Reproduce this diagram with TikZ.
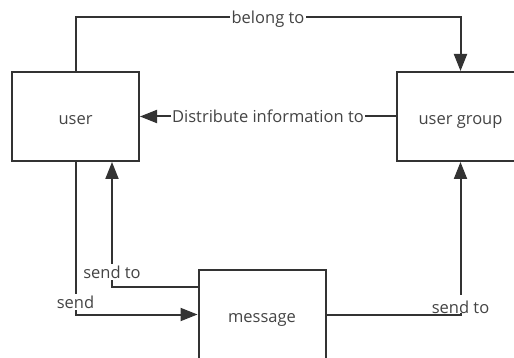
\documentclass[tikz,border=0pt]{standalone}
\usepackage{fontspec}
\setmainfont{Open Sans}
\usetikzlibrary{arrows.meta,calc}
\definecolor{lc}{HTML}{333333}
\definecolor{tc}{HTML}{444444}
\begin{document}
\begin{tikzpicture}[x=1pt,y=-1pt,
  box/.style={draw=lc, line width=2pt, minimum width=127pt, minimum height=89pt,
    inner sep=0pt, text=tc, text height=16pt, text depth=0pt,
    font=\fontsize{16.5}{19}\selectfont},
  conn/.style={draw=lc, line width=2pt, -{Triangle[length=17pt,width=13pt]}},
  lbl/.style={fill=white, text=tc, inner sep=1.5pt, font=\fontsize{16.5}{19}\selectfont}]
\useasboundingbox (0,0) rectangle (514,358);
\clip (0,0) rectangle (514,358);
\node[box] (user) at (75.5,116.5) {user};
\node[box] (group) at (460.5,116.5) {user group};
\node[box] (msg) at (262,314.5) {message};
% belong to
\coordinate (bl) at ($(user.north)+(0,-54)$);
\coordinate (br) at ($(group.north)+(0,-54)$);
\draw[conn] (user.north) -- (bl) -- node[lbl,yshift=-2pt,inner ysep=0.5pt]{belong to} (br) -- (group.north);
% distribute
\draw[conn] (group.west) -- node[lbl,inner ysep=0.5pt]{Distribute information to} (user.east);
% send
\draw[conn] (user.south) |- node[lbl,pos=0.46]{send} (msg.west);
% send to (left)
\draw[conn] ([yshift=27.5pt]msg.west) -| node[lbl,pos=0.56]{send to} ([xshift=36.5pt]user.south);
% send to (right)
\draw[conn] (msg.east) -| node[lbl,pos=0.5,anchor=base,yshift=1.5pt,inner ysep=0pt,
  text depth=0pt,text height=18pt]{send to} (group.south);
\end{tikzpicture}
\end{document}
